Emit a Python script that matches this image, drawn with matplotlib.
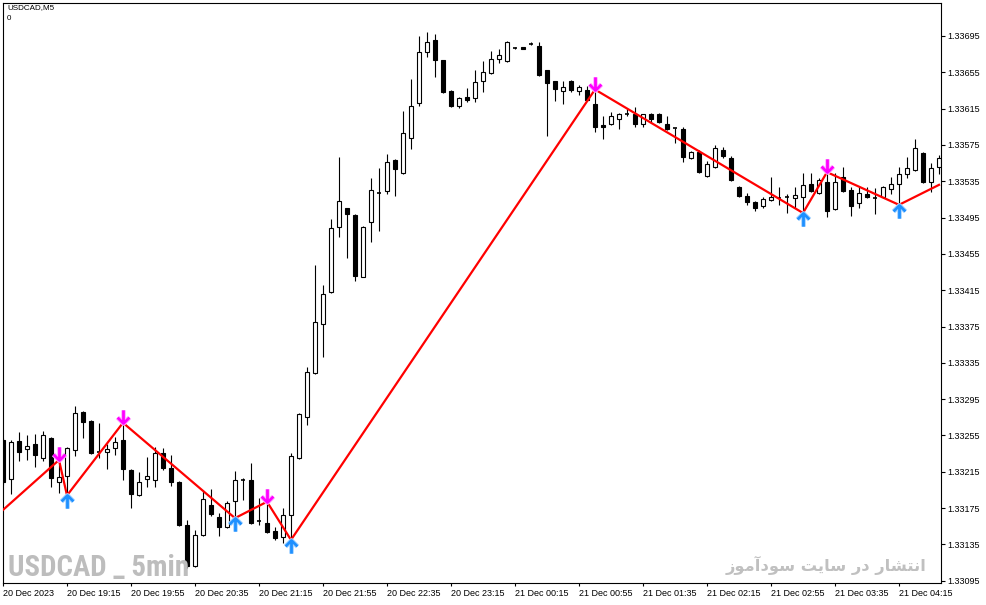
import matplotlib
matplotlib.use('Agg')
import matplotlib.pyplot as plt
from matplotlib.path import Path
from matplotlib import font_manager as fm
import numpy as np

# ---- data (USDCAD M5) ----
opens = [1.33250, 1.33207, 1.33249, 1.33240, 1.33246, 1.33230, 1.33252, 1.33204, 1.33210, 1.33239,
         1.33281, 1.33271, 1.33237, 1.33237, 1.33241, 1.33250, 1.33217, 1.33189, 1.33207, 1.33206,
         1.33236, 1.33219, 1.33204, 1.33156, 1.33111, 1.33145, 1.33178, 1.33165, 1.33154, 1.33183,
         1.33207, 1.33206, 1.33161, 1.33159, 1.33150, 1.33143, 1.33167, 1.33230, 1.33275, 1.33324,
         1.33378, 1.33413, 1.33485, 1.33505, 1.33498, 1.33430, 1.33490, 1.33523, 1.33524, 1.33558,
         1.33544, 1.33583, 1.33621, 1.33677, 1.33691, 1.33668, 1.33634, 1.33618, 1.33628, 1.33627,
         1.33645, 1.33654, 1.33670, 1.33667, 1.33682, 1.33683, 1.33686, 1.33684, 1.33657, 1.33645,
         1.33634, 1.33645, 1.33634, 1.33635, 1.33620, 1.33597, 1.33598, 1.33604, 1.33609, 1.33609,
         1.33598, 1.33609, 1.33609, 1.33598, 1.33594, 1.33593, 1.33561, 1.33567, 1.33541, 1.33551,
         1.33569, 1.33561, 1.33529, 1.33519, 1.33512, 1.33508, 1.33514, 1.33517, 1.33518, 1.33516,
         1.33518, 1.33532, 1.33522, 1.33534, 1.33504, 1.33540, 1.33525, 1.33511, 1.33521, 1.33517,
         1.33518, 1.33526, 1.33532, 1.33543, 1.33547, 1.33566, 1.33534, 1.33551]
highs = [1.33252, 1.33250, 1.33259, 1.33255, 1.33257, 1.33260, 1.33253, 1.33228, 1.33242, 1.33287,
         1.33282, 1.33272, 1.33269, 1.33246, 1.33253, 1.33269, 1.33218, 1.33215, 1.33231, 1.33242,
         1.33241, 1.33234, 1.33205, 1.33162, 1.33151, 1.33195, 1.33196, 1.33170, 1.33183, 1.33216,
         1.33208, 1.33225, 1.33186, 1.33182, 1.33154, 1.33175, 1.33236, 1.33280, 1.33330, 1.33443,
         1.33421, 1.33493, 1.33562, 1.33506, 1.33499, 1.33486, 1.33539, 1.33550, 1.33565, 1.33559,
         1.33612, 1.33648, 1.33695, 1.33699, 1.33697, 1.33669, 1.33636, 1.33628, 1.33638, 1.33657,
         1.33667, 1.33678, 1.33681, 1.33689, 1.33683, 1.33683, 1.33688, 1.33688, 1.33657, 1.33645,
         1.33645, 1.33646, 1.33641, 1.33640, 1.33636, 1.33607, 1.33611, 1.33610, 1.33616, 1.33617,
         1.33609, 1.33610, 1.33610, 1.33607, 1.33594, 1.33595, 1.33568, 1.33569, 1.33557, 1.33575,
         1.33573, 1.33563, 1.33530, 1.33522, 1.33513, 1.33518, 1.33540, 1.33529, 1.33521, 1.33529,
         1.33544, 1.33544, 1.33539, 1.33545, 1.33544, 1.33551, 1.33529, 1.33529, 1.33529, 1.33528,
         1.33530, 1.33540, 1.33551, 1.33562, 1.33581, 1.33567, 1.33555, 1.33564]
lows = [1.33201, 1.33191, 1.33227, 1.33228, 1.33220, 1.33227, 1.33198, 1.33192, 1.33189, 1.33232,
        1.33252, 1.33235, 1.33230, 1.33218, 1.33234, 1.33206, 1.33175, 1.33188, 1.33198, 1.33198,
        1.33217, 1.33199, 1.33155, 1.33109, 1.33110, 1.33144, 1.33166, 1.33144, 1.33153, 1.33164,
        1.33184, 1.33157, 1.33156, 1.33148, 1.33140, 1.33137, 1.33127, 1.33229, 1.33267, 1.33323,
        1.33341, 1.33412, 1.33474, 1.33450, 1.33425, 1.33429, 1.33468, 1.33480, 1.33521, 1.33519,
        1.33543, 1.33570, 1.33618, 1.33672, 1.33650, 1.33632, 1.33617, 1.33616, 1.33622, 1.33622,
        1.33633, 1.33653, 1.33665, 1.33666, 1.33681, 1.33681, 1.33685, 1.33651, 1.33585, 1.33623,
        1.33620, 1.33633, 1.33630, 1.33623, 1.33589, 1.33582, 1.33597, 1.33593, 1.33607, 1.33595,
        1.33595, 1.33599, 1.33599, 1.33591, 1.33577, 1.33556, 1.33559, 1.33544, 1.33540, 1.33550,
        1.33561, 1.33535, 1.33518, 1.33509, 1.33502, 1.33506, 1.33513, 1.33509, 1.33500, 1.33506,
        1.33501, 1.33523, 1.33521, 1.33496, 1.33503, 1.33523, 1.33497, 1.33506, 1.33516, 1.33499,
        1.33516, 1.33521, 1.33509, 1.33539, 1.33546, 1.33533, 1.33523, 1.33543]
closes = [1.33204, 1.33248, 1.33237, 1.33243, 1.33234, 1.33255, 1.33208, 1.33209, 1.33241, 1.33280,
          1.33270, 1.33236, 1.33237, 1.33240, 1.33248, 1.33218, 1.33191, 1.33204, 1.33210, 1.33236,
          1.33219, 1.33204, 1.33156, 1.33111, 1.33145, 1.33185, 1.33169, 1.33154, 1.33181, 1.33206,
          1.33206, 1.33159, 1.33161, 1.33149, 1.33142, 1.33167, 1.33232, 1.33279, 1.33325, 1.33380,
          1.33411, 1.33483, 1.33513, 1.33499, 1.33431, 1.33485, 1.33525, 1.33522, 1.33556, 1.33548,
          1.33588, 1.33618, 1.33677, 1.33688, 1.33668, 1.33633, 1.33618, 1.33627, 1.33624, 1.33644,
          1.33655, 1.33670, 1.33674, 1.33688, 1.33682, 1.33681, 1.33686, 1.33652, 1.33643, 1.33637,
          1.33639, 1.33636, 1.33639, 1.33624, 1.33595, 1.33595, 1.33607, 1.33609, 1.33608, 1.33598,
          1.33609, 1.33604, 1.33600, 1.33593, 1.33593, 1.33562, 1.33567, 1.33545, 1.33554, 1.33572,
          1.33563, 1.33536, 1.33519, 1.33512, 1.33505, 1.33515, 1.33518, 1.33517, 1.33518, 1.33520,
          1.33531, 1.33524, 1.33536, 1.33502, 1.33534, 1.33524, 1.33508, 1.33522, 1.33518, 1.33516,
          1.33529, 1.33532, 1.33543, 1.33550, 1.33572, 1.33534, 1.33550, 1.33561]

# ZigZag vertices (bar index, price) and arrow types
zz_bars = [0, 7, 8, 15, 29, 33, 36, 74, 100, 103, 112, 117]
zz_prices = [1.33173, 1.33228, 1.33189, 1.33269, 1.33164, 1.33182, 1.33140,
             1.33636, 1.33500, 1.33545, 1.33509, 1.33531]
sell_arrow_bars = [7, 15, 33, 74, 103]
buy_arrow_bars = [8, 29, 36, 100, 112]

tick_bars = [0, 8, 16, 24, 32, 40, 48, 56, 64, 72, 80, 88, 96, 104, 112]
tick_labels = ["20 Dec 2023", "20 Dec 19:15", "20 Dec 19:55", "20 Dec 20:35", "20 Dec 21:15",
               "20 Dec 21:55", "20 Dec 22:35", "20 Dec 23:15", "21 Dec 00:15", "21 Dec 00:55",
               "21 Dec 01:35", "21 Dec 02:15", "21 Dec 02:55", "21 Dec 03:35", "21 Dec 04:15"]
price_ticks = [1.33095, 1.33135, 1.33175, 1.33215, 1.33255, 1.33295, 1.33335, 1.33375,
               1.33415, 1.33455, 1.33495, 1.33535, 1.33575, 1.33615, 1.33655, 1.33695]

# ---- figure ----
W, H = 987, 605
fig = plt.figure(figsize=(W / 100, H / 100), dpi=100)
fig.patch.set_facecolor('white')
ax = fig.add_axes([2.7 / W, (H - 583.3) / H, (941 - 2.7) / W, (583.3 - 2.7) / H])
ax.set_facecolor('white')

o = np.array(opens); h = np.array(highs); l = np.array(lows); c = np.array(closes)
x = np.arange(len(o))

# wicks
ax.vlines(x, l, h, color='black', linewidth=0.8, zorder=1)
# bodies
bw = 0.55
up = c >= o
diff = np.abs(c - o)
flat = diff < 0.000015
bull = up & ~flat
bear = (~up) & ~flat
ax.bar(x[bull], (c - o)[bull], bottom=o[bull], width=bw, facecolor='white',
       edgecolor='black', linewidth=0.8, zorder=2)
ax.bar(x[bear], (o - c)[bear], bottom=c[bear], width=bw, facecolor='black',
       edgecolor='black', linewidth=0.8, zorder=2)
ax.hlines(((o + c) / 2)[flat], x[flat] - bw / 2, x[flat] + bw / 2, color='black',
          linewidth=1.2, zorder=2)

# zigzag
ax.plot(zz_bars, zz_prices, color='#ff0000', linewidth=1.6, zorder=3, solid_joinstyle='miter')

# arrows
down_path = Path([(0, 0), (0, 1), (-0.45, 0.45), (0, 0), (0.45, 0.45)],
                 [Path.MOVETO, Path.LINETO, Path.MOVETO, Path.LINETO, Path.LINETO])
up_path = Path([(0, 0), (0, -1), (-0.45, -0.45), (0, 0), (0.45, -0.45)],
               [Path.MOVETO, Path.LINETO, Path.MOVETO, Path.LINETO, Path.LINETO])
zz_map = dict(zip(zz_bars, zz_prices))
sx = sell_arrow_bars; sy = [zz_map[b] for b in sx]
bx = buy_arrow_bars; by = [zz_map[b] for b in bx]
ax.plot(sx, sy, linestyle='none', marker=down_path, markersize=19, mfc='none',
        mec='#ffb0ff', mew=3.4, zorder=4)
ax.plot(sx, sy, linestyle='none', marker=down_path, markersize=19, mfc='none',
        mec='#ff00ff', mew=2.0, zorder=5)
ax.plot(bx, by, linestyle='none', marker=up_path, markersize=19, mfc='none',
        mec='#a8d4ff', mew=3.4, zorder=4)
ax.plot(bx, by, linestyle='none', marker=up_path, markersize=19, mfc='none',
        mec='#1e90ff', mew=2.0, zorder=5)

# axes
ax.set_xlim(-0.0375, 117.25)
ax.set_ylim(1.330922, 1.337316)
for s in ax.spines.values():
    s.set_color('black')
    s.set_linewidth(0.8)
ax.yaxis.tick_right()
ax.set_yticks(price_ticks)
ax.set_yticklabels([f"{p:.5f}" for p in price_ticks])
ax.tick_params(axis='y', direction='out', length=3, width=0.8, pad=1.5,
               labelsize=6.5, colors='black')
ax.set_xticks(tick_bars)
ax.set_xticklabels(tick_labels, ha='left')
ax.tick_params(axis='x', direction='out', length=2.5, width=0.8, pad=1.5,
               labelsize=6.5, colors='black')
for lab in ax.get_xticklabels() + ax.get_yticklabels():
    lab.set_fontfamily('Liberation Sans')

# texts
fig.text(7 / W, 1 - 4 / H, "USDCAD,M5", ha='left', va='top', fontsize=5.8,
         family='Liberation Sans', color='black')
fig.text(7 / W, 1 - 15 / H, "0", ha='left', va='top', fontsize=5.8,
         family='Liberation Sans', color='black')

# choose a narrow bold face for the watermark if one is installed
names = {f.name for f in fm.fontManager.ttflist}
wm_family, wm_stretch = 'Liberation Sans', 'normal'
for cand in ['Liberation Sans Narrow', 'Roboto Condensed', 'Open Sans Condensed', 'DejaVu Sans Condensed']:
    if cand in names:
        wm_family = cand
        break
else:
    for f in fm.fontManager.ttflist:
        if f.name == 'DejaVu Sans' and 'condensed' in str(f.stretch).lower():
            wm_family, wm_stretch = 'DejaVu Sans', 'condensed'
            break

wm = fig.text(8 / W, 1 - 576 / H, "USDCAD _ 5min", ha='left', va='baseline', fontsize=21,
              fontweight='bold', color='#bdbdbd', family=wm_family, fontstretch=wm_stretch,
              zorder=0)
# Persian watermark (presentation forms, visual order)
fa_text = ("\uFEAF\uFEEE\uFEE3\uFE81\uFEA9\uFEEE\uFEB3" + " " +
           "\uFE96\uFEF3\uFE8E\uFEB3" + " " +
           "\uFEAD\uFEA9" + " " +
           "\uFEAD\uFE8E\uFEB8\uFE98\uFEE7\uFE8D")
fa = fig.text(927 / W, 1 - 571 / H, fa_text, ha='right', va='baseline', fontsize=15,
              fontweight='bold', color='#c0c0c0', family='DejaVu Sans', zorder=0)

# fit watermark widths to the reference layout
fig.canvas.draw()
r = fig.canvas.get_renderer()
for t, target, fs in [(wm, 180.0, 21), (fa, 200.0, 15)]:
    wpx = t.get_window_extent(renderer=r).width
    t.set_fontsize(fs * target / wpx)

fig.savefig('out.png', dpi=100, facecolor='white')
